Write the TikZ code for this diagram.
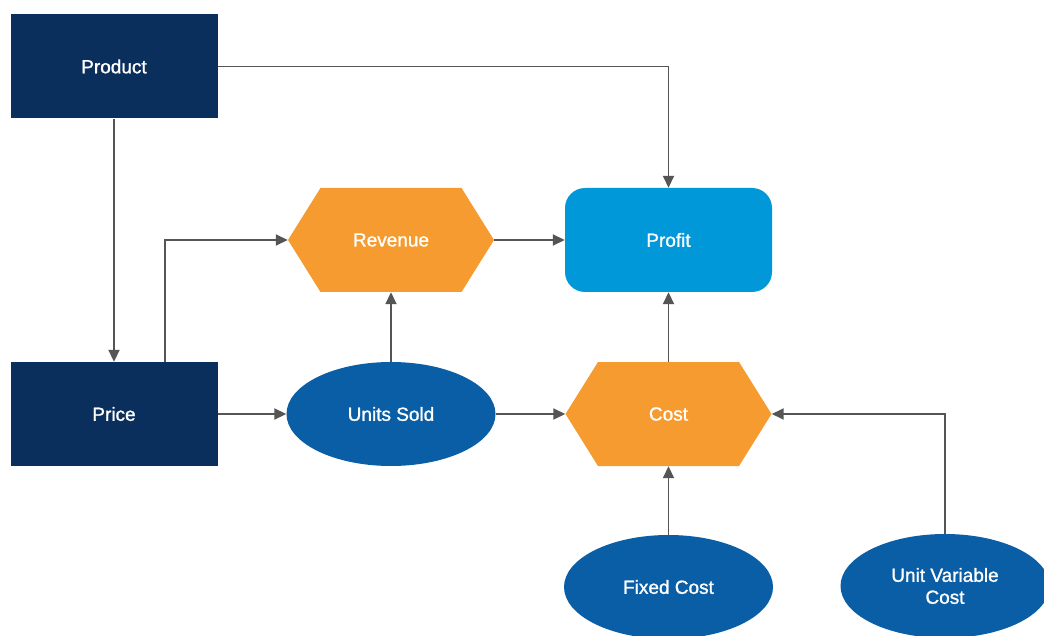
\documentclass[tikz,border=0pt]{standalone}
\usepackage{fontspec}
\setmainfont{Liberation Sans}
\newfontfamily\lblfont[FakeBold=1.2]{Liberation Sans}
\usetikzlibrary{arrows.meta,shapes.geometric,shapes.symbols}
\definecolor{navy}{HTML}{0B2F5C}
\definecolor{skyb}{HTML}{0098D9}
\definecolor{orng}{HTML}{F69B30}
\definecolor{ellb}{HTML}{0A5EA6}
\definecolor{conn}{HTML}{555555}
\tikzset{
  base/.style={text=white, font=\lblfont\fontsize{19}{22}\selectfont, inner sep=0pt, align=center},
  navybox/.style={base, fill=navy, minimum width=207pt, minimum height=104pt},
  profbox/.style={base, fill=skyb, rounded corners=20pt, minimum width=207pt, minimum height=104pt},
  hexa/.style={base, fill=orng, signal, signal to=west and east, signal pointer angle=116, minimum width=206pt, minimum height=104pt},
  ell/.style={base, fill=ellb, ellipse, minimum width=209pt, minimum height=104pt},
  link/.style={draw=conn, line width=1.8pt, -{Triangle[length=12pt,width=11pt]}}
}
\begin{document}
\begin{tikzpicture}[x=1pt,y=-1pt]
\clip (0,0) rectangle (1044,636);
\fill[white] (0,0) rectangle (1044,636);
\node[navybox] (prod) at (114,66.5) {Product};
\node[navybox] (price) at (114,414) {Price};
\node[hexa] (rev) at (391,240) {Revenue};
\node[profbox] (profit) at (668.5,240) {Profit};
\node[ell] (us) at (391,414) {Units Sold};
\node[hexa] (cost) at (668.5,414) {Cost};
\node[ell] (fc) at (668.5,587) {Fixed Cost};
\node[ell] (uvc) at (945,586) {Unit Variable\\Cost};
\draw[link] (prod.east) -| (profit.north);
\draw[link] (prod.south) -- (price.north);
\draw[link] ([xshift=51pt]price.north) |- (rev.west);
\draw[link] (price.east) -- (us.west);
\draw[link] (us.north) -- (rev.south);
\draw[link] (rev.east) -- (profit.west);
\draw[link] (us.east) -- (cost.west);
\draw[link] (cost.north) -- (profit.south);
\draw[link] (fc.north) -- (cost.south);
\draw[link] (uvc.north) |- (cost.east);
\end{tikzpicture}
\end{document}
